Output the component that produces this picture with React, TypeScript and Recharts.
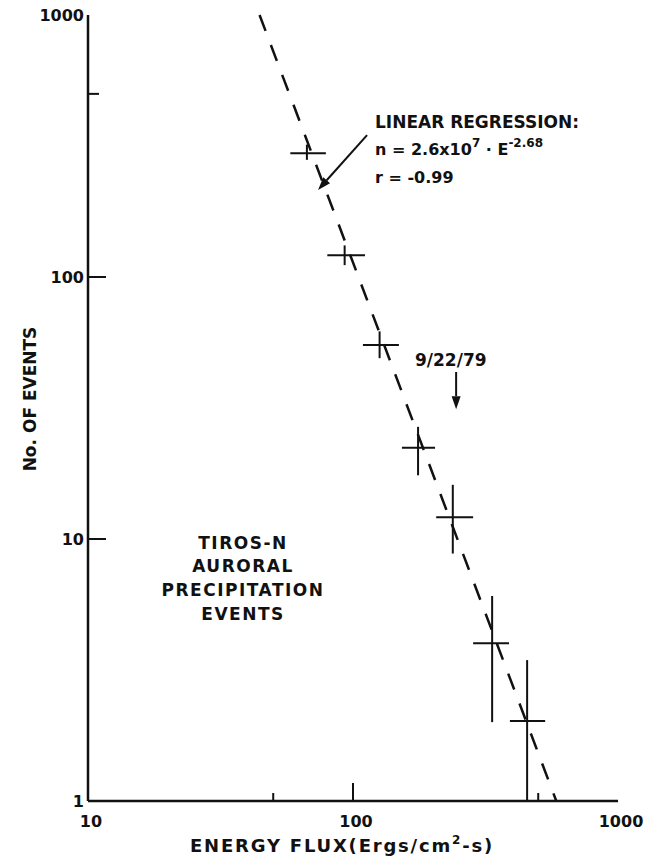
import { ScatterChart, Scatter, XAxis, YAxis, ErrorBar, ReferenceLine } from "recharts";

// energy bins (Ergs/cm2-s) and counts
const energy = [67, 93, 126, 176, 238, 335, 454];
const energyLo = [58, 80, 109, 153, 206, 284, 391];
const energyHi = [79, 111, 149, 204, 284, 388, 531];
const events = [297, 121, 55, 22.3, 12.1, 4.0, 2.02];
const eventsLo = [280, 111, 49, 17.5, 8.8, 2.0, 1];
const eventsHi = [320, 132, 62, 26.8, 16.1, 6.06, 3.45];

// regression line end points (where it leaves the frame)
const fitE = [44.4, 585];
const fitN = [1000, 1];

// annotation arrows: tail -> head, in data units
const arrowE = [[113, 73.8], [245, 245]];
const arrowN = [[348, 215], [43.4, 31.3]];

const xTicks = [10, 50, 100, 500, 1000];
const yTicks = [1, 10, 100, 500, 1000];
const rightTicks = [5, 10, 50, 100, 500];
const topTicks = [50, 100, 500];

const FONT = "'DejaVu Sans', sans-serif";
const INK = "#111";

const data = energy.map((e, i) => ({
    x: e,
    y: events[i],
    ex: [e - energyLo[i], energyHi[i] - e],
    ey: [events[i] - eventsLo[i], eventsHi[i] - events[i]],
}));

const W = 649;
const H = 856;

function BottomTick(props: any) {
    const { x, y, payload } = props;
    const v = payload.value;
    const len = v === 100 ? 18 : v === 50 || v === 500 ? 8 : 0;
    const showLabel = v === 10 || v === 100 || v === 1000;
    return (
        <g>
            {len > 0 && <line x1={x} y1={y} x2={x} y2={y - len} stroke={INK} strokeWidth={2} />}
            {showLabel && (
                <text x={x + 3} y={y + 26} textAnchor="middle" fontFamily={FONT} fontWeight="bold" fontSize={16} fill={INK}>
                    {v}
                </text>
            )}
        </g>
    );
}

function LeftTick(props: any) {
    const { x, y, payload } = props;
    const v = payload.value;
    const len = v === 10 || v === 100 ? 18 : v === 500 ? 11 : 0;
    return (
        <g>
            {len > 0 && <line x1={x} y1={y} x2={x + len} y2={y} stroke={INK} strokeWidth={2} />}
            {v !== 500 && (
                <text x={x - 4} y={y + 6} textAnchor="end" fontFamily={FONT} fontWeight="bold" fontSize={16} fill={INK}>
                    {v}
                </text>
            )}
        </g>
    );
}

function RightTick(props: any) {
    const { x, y, payload } = props;
    const v = payload.value;
    const len = v === 100 ? 23 : v === 10 ? 19 : v === 500 ? 7 : 11;
    return <line x1={x} y1={y} x2={x - len} y2={y} stroke={INK} strokeWidth={2} />;
}

function TopTick(props: any) {
    const { x, y, payload } = props;
    const v = payload.value;
    const len = v === 100 ? 16 : 9;
    return <line x1={x} y1={y} x2={x} y2={y + len} stroke={INK} strokeWidth={2} />;
}

function Arrow(props: any) {
    const { x1, y1, x2, y2 } = props;
    const a = Math.atan2(y2 - y1, x2 - x1);
    const L = 13;
    const hw = 4.5;
    const bx = x2 - L * Math.cos(a);
    const by = y2 - L * Math.sin(a);
    const px = -Math.sin(a) * hw;
    const py = Math.cos(a) * hw;
    return (
        <g>
            <line x1={x1} y1={y1} x2={bx} y2={by} stroke={INK} strokeWidth={2} />
            <polygon points={`${x2},${y2} ${bx + px},${by + py} ${bx - px},${by - py}`} fill={INK} />
        </g>
    );
}

const noDot = () => <g />;

export default function App() {
    const txt = { fontFamily: FONT, fontWeight: "bold" as const, fill: INK };
    return (
        <div style={{ position: "absolute", left: 0, top: 0, width: W, height: H, background: "#fff" }}>
            <ScatterChart width={W} height={H} margin={{ top: 15, right: 31, bottom: 0, left: 0 }}>
                <XAxis
                    xAxisId="b"
                    type="number"
                    dataKey="x"
                    scale="log"
                    domain={[10, 1000]}
                    ticks={xTicks}
                    interval={0}
                    allowDataOverflow
                    height={55}
                    tickSize={0}
                    tickMargin={0}
                    tickLine={false}
                    axisLine={{ stroke: INK, strokeWidth: 2.5 }}
                    tick={<BottomTick />}
                />
                <XAxis
                    xAxisId="t"
                    orientation="top"
                    type="number"
                    scale="log"
                    domain={[10, 1000]}
                    ticks={topTicks}
                    interval={0}
                    allowDataOverflow
                    height={0}
                    tickSize={0}
                    tickMargin={0}
                    tickLine={false}
                    axisLine={{ stroke: INK, strokeWidth: 2.5 }}
                    tick={<TopTick />}
                />
                <YAxis
                    yAxisId="l"
                    type="number"
                    dataKey="y"
                    scale="log"
                    domain={[1, 1000]}
                    ticks={yTicks}
                    interval={0}
                    allowDataOverflow
                    width={88}
                    tickSize={0}
                    tickMargin={0}
                    tickLine={false}
                    axisLine={{ stroke: INK, strokeWidth: 2.5 }}
                    tick={<LeftTick />}
                />
                <YAxis
                    yAxisId="r"
                    orientation="right"
                    type="number"
                    scale="log"
                    domain={[1, 1000]}
                    ticks={rightTicks}
                    interval={0}
                    allowDataOverflow
                    width={0}
                    tickSize={0}
                    tickMargin={0}
                    tickLine={false}
                    axisLine={{ stroke: INK, strokeWidth: 2.5 }}
                    tick={<RightTick />}
                />

                <ReferenceLine
                    xAxisId="b"
                    yAxisId="l"
                    segment={[{ x: fitE[0], y: fitN[0] }, { x: fitE[1], y: fitN[1] }]}
                    stroke={INK}
                    strokeWidth={2.5}
                    strokeDasharray="17 15"
                    ifOverflow="visible"
                />
                {arrowE.map((xs, i) => (
                    <ReferenceLine
                        key={i}
                        xAxisId="b"
                        yAxisId="l"
                        segment={[{ x: xs[0], y: arrowN[i][0] }, { x: xs[1], y: arrowN[i][1] }]}
                        stroke={INK}
                        shape={Arrow}
                        ifOverflow="visible"
                    />
                ))}

                <Scatter xAxisId="b" yAxisId="l" data={data} shape={noDot} isAnimationActive={false}>
                    <ErrorBar dataKey="ex" direction="x" width={0} stroke={INK} strokeWidth={2} isAnimationActive={false} />
                    <ErrorBar dataKey="ey" direction="y" width={0} stroke={INK} strokeWidth={2} isAnimationActive={false} />
                </Scatter>
            </ScatterChart>

            <svg width={W} height={H} style={{ position: "absolute", left: 0, top: 0, pointerEvents: "none" }}>
                <text {...txt} fontSize={17} x={375} y={128}>LINEAR REGRESSION:</text>
                <text {...txt} fontSize={16} x={375} y={155}>
                    n = 2.6x10
                    <tspan fontSize={12} dy={-8}>7</tspan>
                    <tspan dy={8}> · E</tspan>
                    <tspan fontSize={12} dy={-8}>-2.68</tspan>
                </text>
                <text {...txt} fontSize={16} x={375} y={183}>r = -0.99</text>
                <text {...txt} fontSize={17} x={415} y={366}>9/22/79</text>

                <g textAnchor="middle">
                    <text {...txt} fontSize={17} letterSpacing={1.5} x={243} y={549}>TIROS-N</text>
                    <text {...txt} fontSize={17} letterSpacing={1.5} x={243} y={572}>AURORAL</text>
                    <text {...txt} fontSize={17} letterSpacing={1.5} x={243} y={596}>PRECIPITATION</text>
                    <text {...txt} fontSize={17} letterSpacing={1.5} x={243} y={620}>EVENTS</text>
                </g>

                <text {...txt} fontSize={17} textAnchor="middle" transform="translate(36,399) rotate(-90)">
                    No. OF EVENTS
                </text>
                <text {...txt} fontSize={18} letterSpacing={1.8} textAnchor="middle" x={342} y={852}>
                    ENERGY FLUX(Ergs/cm
                    <tspan fontSize={12} dy={-8}>2</tspan>
                    <tspan dy={8}>-s)</tspan>
                </text>
            </svg>
        </div>
    );
}
